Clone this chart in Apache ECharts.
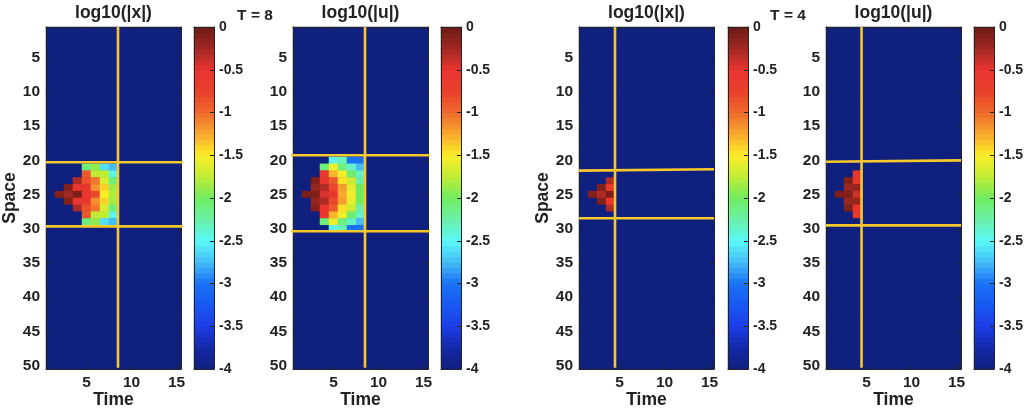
<!DOCTYPE html>
<html>
<head>
<meta charset="utf-8">
<script src="https://cdn.jsdelivr.net/npm/echarts@6/dist/echarts.min.js"></script>
<style>
  html, body { margin: 0; padding: 0; background: #fff; }
  #chart { width: 1024px; height: 418px; }
</style>
</head>
<body>
<div id="chart"></div>
<script>
const F = -4; // floor of the colour scale, everything not listed below sits here

const timeCats = [1, 2, 3, 4, 5, 6, 7, 8, 9, 10, 11, 12, 13, 14, 15];
const spaceCats = Array.from({ length: 50 }, (_, i) => i + 1);
const timeTicks = [5, 10, 15];
const spaceTicks = [5, 10, 15, 20, 25, 30, 35, 40, 45, 50];

// log10 values, rows start at xT8First etc, columns are time 1, 2, 3...
const xT8First = 21;
const xT8 = [
  [F, F, F, F, -2.1, -1.9, -2.6, -2.75],
  [F, F, F, F, -0.9, -1.75, -1.75, -2.45],
  [F, F, F, -0.3, -0.85, -1.05, -1.65, -2.1],
  [F, F, -0.1, -0.5, -0.55, -1.15, -1.4, -1.85],
  [F, -0.1, -0.25, -0.08, -0.5, -0.8, -1.5, -1.8],
  [F, F, -0.1, -0.5, -0.55, -1.15, -1.4, -1.85],
  [F, F, F, -0.3, -0.85, -1.05, -1.65, -2.1],
  [F, F, F, F, -0.9, -1.75, -1.75, -2.45],
  [F, F, F, F, -2.1, -1.9, -2.6, -2.75]
];
const uT8First = 20;
const uT8 = [
  [F, F, F, F, -2.45, -2.3, -3, -3],
  [F, F, F, -2.1, -1.55, -2.1, -2.35, -2.75],
  [F, F, F, -0.55, -1.3, -1.55, -2.05, -2.35],
  [F, F, -0.1, -0.5, -0.9, -1.45, -1.7, -2.25],
  [F, F, -0.2, -0.3, -0.8, -1.2, -1.6, -2],
  [F, -0.08, -0.08, -0.45, -0.5, -1.25, -1.55, -2],
  [F, F, -0.2, -0.3, -0.8, -1.2, -1.6, -2],
  [F, F, -0.1, -0.5, -0.9, -1.45, -1.7, -2.25],
  [F, F, F, -0.55, -1.3, -1.55, -2.05, -2.35],
  [F, F, F, -2.1, -1.55, -2.1, -2.35, -2.75],
  [F, F, F, F, -2.45, -2.3, -3, -3]
];
const xT4First = 23;
const xT4 = [
  [F, F, F, -0.3],
  [F, F, -0.1, -0.55],
  [F, -0.1, -0.3, -0.08],
  [F, F, -0.1, -0.55],
  [F, F, F, -0.3]
];
const uT4First = 22;
const uT4 = [
  [F, F, F, -0.55],
  [F, F, -0.1, -0.55],
  [F, F, -0.22, -0.2],
  [F, -0.08, -0.1, -0.4],
  [F, F, -0.22, -0.2],
  [F, F, -0.1, -0.55],
  [F, F, F, -0.55]
];

// yellow cross lines: [time, space] end points, slight tilt kept from the figure
const crossT8x = [[[0.5, 20.28], [15.7, 20.28]], [[0.5, 29.65], [15.7, 29.65]], [[8.5, 0.5], [8.5, 50.3]]];
const crossT8u = [[[0.2, 19.26], [15.7, 19.26]], [[0.2, 30.37], [15.7, 30.37]], [[8.5, 0.5], [8.5, 50.3]]];
const crossT4x = [[[0.5, 21.5], [15.5, 21.3]], [[0.5, 28.47], [15.5, 28.47]], [[4.5, 0.5], [4.5, 50.3]]];
const crossT4u = [[[0.5, 20.2], [15.5, 20]], [[0.5, 29.5], [15.5, 29.5]], [[4.45, 0.5], [4.45, 50.3]]];

const jetStops = ['#10207e', '#1428a8', '#1c3ce8', '#1858f0', '#1a72f4', '#44bcf8', '#5af8f8', '#6af0a8', '#70ec60',
  '#c0ec34', '#fdee28', '#f8a82e', '#ee6a2c', '#e8402c', '#e93530', '#a02822', '#6e1a14'];
const barLevels = Array.from({ length: 64 }, (_, i) => -4 + (i + 0.5) / 16);

const panels = [
  { left: 46, bar: 194, title: 'log10(|x|)', rows: xT8, first: xT8First, cross: crossT8x, space: true },
  { left: 293, bar: 441, title: 'log10(|u|)', rows: uT8, first: uT8First, cross: crossT8u },
  { left: 579, bar: 728, title: 'log10(|x|)', rows: xT4, first: xT4First, cross: crossT4x, space: true },
  { left: 826, bar: 974, title: 'log10(|u|)', rows: uT4, first: uT4First, cross: crossT4u }
];

const TOP = 27, H = 342, W = 135, BAR_W = 20;
const ink = '#222';
const font = 'Liberation Sans';
const tickFont = { fontFamily: font, fontWeight: 'bold', fontSize: 15.5, color: ink };
const nameFont = { fontFamily: font, fontWeight: 'bold', fontSize: 17.5, color: ink };
const edge = { show: true, onZero: false, lineStyle: { color: ink, width: 1 } };

// background behind the colour bar so the seams between its cells do not show white
const barFill = new echarts.graphic.LinearGradient(0, 1, 0, 0,
  jetStops.map((color, i) => ({ offset: i / (jetStops.length - 1), color })));

function cells(rows, first) {
  const out = [];
  spaceCats.forEach((s, y) => timeCats.forEach((t, x) => {
    const row = rows[s - first];
    const v = row && row[x] !== undefined ? row[x] : F;
    out.push([x, y, v]);
  }));
  return out;
}

const grid = [], xAxis = [], yAxis = [], series = [], heatIdx = [], titles = [];

panels.forEach(p => {
  const g = grid.length;
  grid.push({
    left: p.left, top: TOP, width: W, height: H, show: true, backgroundColor: jetStops[0], borderWidth: 0,
    outerBoundsMode: 'none'
  });
  const xCat = xAxis.length, yCat = yAxis.length;
  xAxis.push({ type: 'category', gridIndex: g, data: timeCats, show: false });
  yAxis.push({ type: 'category', gridIndex: g, data: spaceCats, inverse: true, show: false });

  const xVal = xAxis.length, yVal = yAxis.length;
  xAxis.push({
    type: 'value', gridIndex: g, position: 'bottom', min: 0.5, max: 15.5, z: 5,
    name: 'Time', nameLocation: 'middle', nameGap: 22, nameMoveOverlap: false, nameTextStyle: nameFont,
    axisLine: edge, splitLine: { show: false },
    axisTick: { inside: true, length: 3, customValues: timeTicks, lineStyle: { color: ink } },
    axisLabel: { ...tickFont, margin: 6, customValues: timeTicks }
  });
  yAxis.push({
    type: 'value', gridIndex: g, position: 'left', inverse: true, min: 0.5, max: 50.5, z: 5,
    name: p.space ? 'Space' : '', nameLocation: 'middle', nameGap: 27, nameTextStyle: nameFont,
    axisLine: edge, splitLine: { show: false },
    axisTick: { inside: true, length: 3, customValues: spaceTicks, lineStyle: { color: ink } },
    axisLabel: { ...tickFont, margin: 6, customValues: spaceTicks }
  });
  // mirrored top and right edges of the box
  xAxis.push({
    type: 'value', gridIndex: g, position: 'top', min: 0.5, max: 15.5, z: 5,
    axisLine: edge, splitLine: { show: false }, axisLabel: { show: false },
    axisTick: { inside: true, length: 3, customValues: timeTicks, lineStyle: { color: ink } }
  });
  yAxis.push({
    type: 'value', gridIndex: g, position: 'right', inverse: true, min: 0.5, max: 50.5, z: 5,
    axisLine: edge, splitLine: { show: false }, axisLabel: { show: false },
    axisTick: { inside: true, length: 3, customValues: spaceTicks, lineStyle: { color: ink } }
  });

  heatIdx.push(series.length);
  series.push({
    type: 'heatmap', xAxisIndex: xCat, yAxisIndex: yCat, data: cells(p.rows, p.first), z: 2, silent: true
  });
  p.cross.forEach(line => series.push({
    type: 'line', xAxisIndex: xVal, yAxisIndex: yVal, data: line, z: 6, clip: false, silent: true,
    showSymbol: false, lineStyle: { color: '#f9c92c', width: 2.6, cap: 'butt' }
  }));

  // colour bar
  const b = grid.length;
  grid.push({
    left: p.bar, top: TOP, width: BAR_W, height: H, show: true, backgroundColor: barFill, borderWidth: 0,
    outerBoundsMode: 'none'
  });
  const xBar = xAxis.length, yBar = yAxis.length;
  xAxis.push({ type: 'category', gridIndex: b, data: ['c'], show: false });
  yAxis.push({ type: 'category', gridIndex: b, data: barLevels, show: false });
  xAxis.push({
    type: 'value', gridIndex: b, position: 'bottom', min: 0, max: 1, z: 5,
    axisLine: edge, axisTick: { show: false }, axisLabel: { show: false }, splitLine: { show: false }
  });
  xAxis.push({
    type: 'value', gridIndex: b, position: 'top', min: 0, max: 1, z: 5,
    axisLine: edge, axisTick: { show: false }, axisLabel: { show: false }, splitLine: { show: false }
  });
  yAxis.push({
    type: 'value', gridIndex: b, position: 'right', min: -4, max: 0, interval: 0.5, z: 5,
    axisLine: edge, splitLine: { show: false },
    axisTick: { inside: true, length: 4, lineStyle: { color: ink } },
    axisLabel: { ...tickFont, fontSize: 14, margin: 5 }
  });
  yAxis.push({
    type: 'value', gridIndex: b, position: 'left', min: -4, max: 0, z: 5,
    axisLine: edge, axisTick: { show: false }, axisLabel: { show: false }, splitLine: { show: false }
  });
  heatIdx.push(series.length);
  series.push({
    type: 'heatmap', xAxisIndex: xBar, yAxisIndex: yBar, z: 2, silent: true,
    data: barLevels.map((v, i) => [0, i, v])
  });

  titles.push({
    text: p.title, left: p.left + W / 2, top: 4, padding: 0, textAlign: 'center',
    textStyle: nameFont
  });
});

const tempStyle = { fontFamily: font, fontWeight: 'bold', fontSize: 15.5, color: ink };
titles.push({ text: 'T = 8', left: 255, top: 8, padding: 0, textAlign: 'center', textStyle: tempStyle });
titles.push({ text: 'T = 4', left: 788, top: 8, padding: 0, textAlign: 'center', textStyle: tempStyle });

const chart = echarts.init(document.getElementById('chart'));
chart.setOption({
  animation: false,
  backgroundColor: '#fff',
  title: titles,
  grid,
  xAxis,
  yAxis,
  visualMap: {
    show: false, type: 'continuous', min: -4, max: 0, dimension: 2, seriesIndex: heatIdx,
    inRange: { color: jetStops }
  },
  series
});
</script>
</body>
</html>
